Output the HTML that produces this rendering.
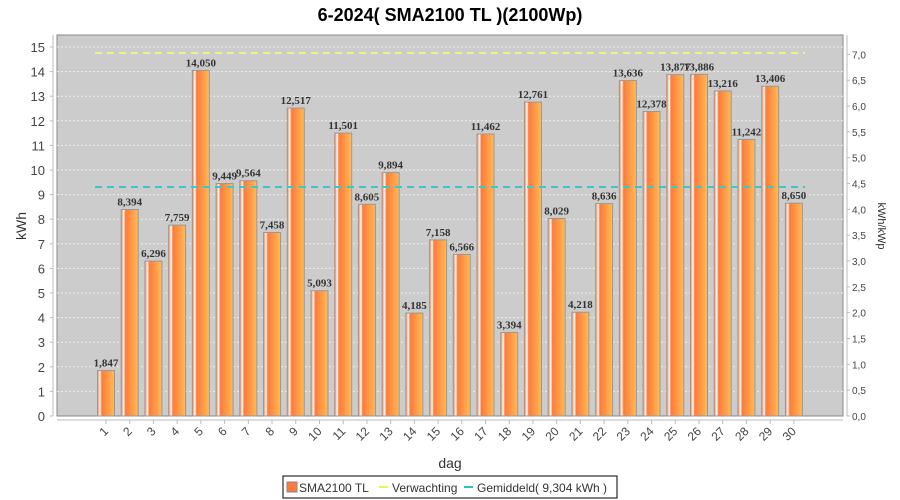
<!DOCTYPE html>
<html><head><meta charset="utf-8"><style>
body{margin:0;background:#fff;width:900px;height:500px;overflow:hidden}
svg{display:block;font-family:"Liberation Sans",sans-serif}
</style></head><body>
<svg id="s" width="900" height="500" xmlns="http://www.w3.org/2000/svg">
<defs>
<linearGradient id="g" x1="0" x2="1" y1="0" y2="0">
<stop offset="0" stop-color="#ff7a3a"/><stop offset="0.15" stop-color="#fff"/><stop offset="0.25" stop-color="#ff7a3a"/><stop offset="1" stop-color="#ffbb55"/>
</linearGradient>
</defs>
<text x="450" y="21" text-anchor="middle" font-size="18" font-weight="bold" fill="#000">6-2024( SMA2100 TL )(2100Wp)</text>
<rect x="57" y="35" width="786" height="381" fill="#cccccc" stroke="#888"/>
<g id="grid"></g>
<g id="bars"></g>
<line x1="95" x2="805" y1="53" y2="53" stroke="#f0f08a" stroke-width="2" stroke-dasharray="7,5"/>
<line x1="95" x2="805" y1="187" y2="187" stroke="#3cc8c8" stroke-width="2" stroke-dasharray="7,5"/>
<line x1="53" x2="53" y1="35" y2="416" stroke="#bbb"/>
<line x1="847" x2="847" y1="35" y2="416" stroke="#bbb"/>
<line x1="57" x2="843" y1="420" y2="420" stroke="#bbb"/>
<text transform="translate(26,226) rotate(-90)" text-anchor="middle" font-size="14" fill="#333">kWh</text>
<text transform="translate(878,226) rotate(90)" text-anchor="middle" font-size="11" fill="#333">kWh/kWp</text>
<text x="450" y="468" text-anchor="middle" font-size="14" fill="#333">dag</text>
<rect x="283" y="476" width="334" height="22" fill="#fff" stroke="#000"/>
<rect x="287" y="482" width="10" height="10" fill="#ff7a3a" stroke="#888"/>
<text x="299" y="492" font-size="12" fill="#333">SMA2100 TL</text>
<line x1="379" x2="388" y1="487" y2="487" stroke="#f0f060" stroke-width="2"/>
<text x="392" y="492" font-size="12" fill="#333">Verwachting</text>
<line x1="464" x2="473" y1="487" y2="487" stroke="#20c8c8" stroke-width="2"/>
<text x="477" y="492" font-size="12" fill="#333">Gemiddeld( 9,304 kWh )</text>
</svg>
<script>
var v=[1.847,8.394,6.296,7.759,14.050,9.449,9.564,7.458,12.517,5.093,11.501,8.605,9.894,4.185,7.158,6.566,11.462,3.394,12.761,8.029,4.218,8.636,13.636,12.378,13.877,13.886,13.216,11.242,13.406,8.650];
var ns="http://www.w3.org/2000/svg",s=document.getElementById('s'),G=document.getElementById('grid'),B=document.getElementById('bars');
function el(p,t,a,txt){var e=document.createElementNS(ns,t);for(var k in a)e.setAttribute(k,a[k]);if(txt!=null)e.textContent=txt;p.appendChild(e);return e;}
function Y(k){return 416-k*24.6;}
for(var i=0;i<=15;i++){var y=Y(i);if(i>0)el(G,'line',{x1:57,x2:843,y1:y,y2:y,stroke:'#eee','stroke-dasharray':'2,2'});
el(s,'line',{x1:50,x2:53,y1:y,y2:y,stroke:'#bbb'});el(s,'text',{x:45,y:y+5,'text-anchor':'end','font-size':13,fill:'#444'},i);}
for(var j=0;j<=14;j++){var r=j*0.5,y=416-r*2.1*24.6;el(s,'line',{x1:847,x2:850,y1:y,y2:y,stroke:'#bbb'});
el(s,'text',{x:852,y:y+4,'font-size':10,fill:'#444'},r.toFixed(1).replace('.',','));}
for(var i=0;i<30;i++){var c=106+i*23.72,y=Y(v[i]);
el(B,'rect',{x:c-8.5,y:y,width:17,height:416-y,fill:'url(#g)',stroke:'#999'});
el(B,'text',{x:c,y:y-4,'text-anchor':'middle','font-size':11,'font-weight':'bold','font-family':'Liberation Serif,serif',fill:'#333'},v[i].toFixed(3).replace('.',','));
el(s,'line',{x1:c,x2:c,y1:420,y2:424,stroke:'#bbb'});
el(s,'text',{transform:'translate('+(c+3)+',432) rotate(-45)','text-anchor':'end','font-size':12,fill:'#444'},i+1);}
</script>
</body></html>
